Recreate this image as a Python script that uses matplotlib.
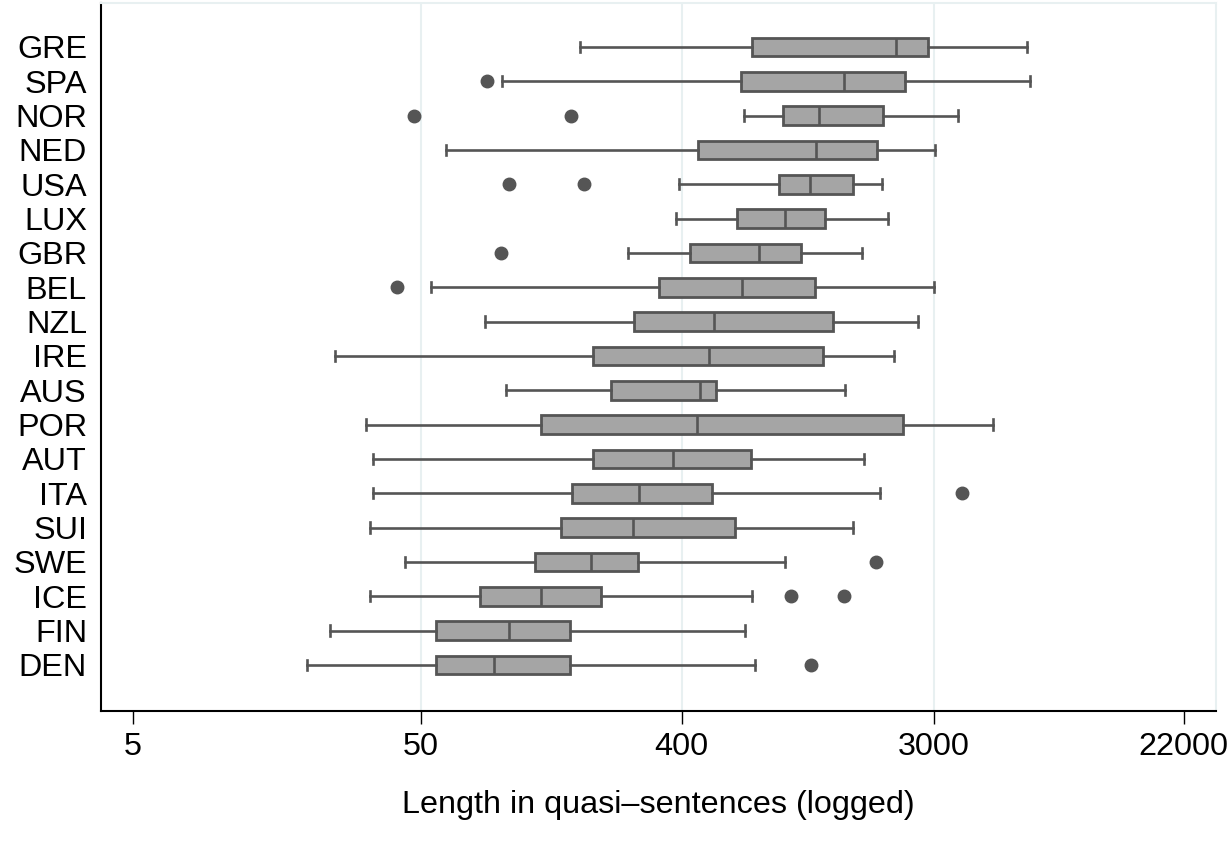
import numpy as np
import matplotlib
matplotlib.use("Agg")
import matplotlib.pyplot as plt

# countries, top to bottom
countries = ["GRE", "SPA", "NOR", "NED", "USA", "LUX", "GBR", "BEL", "NZL", "IRE",
             "AUS", "POR", "AUT", "ITA", "SUI", "SWE", "ICE", "FIN", "DEN"]

# box plot statistics (quasi-sentences)
whislo = [178, 95, 658, 61, 390, 382, 260, 54, 83.5, 25.1,
          98.5, 32.1, 34.1, 34.1, 33.1, 44.1, 33.1, 24.1, 20.1]
q1 = [701, 642, 898, 455, 867, 622, 427, 334, 273, 197,
      228, 130, 197, 167, 152, 124, 80, 56.1, 56.1]
med = [2211, 1460, 1201, 1168, 1113, 912, 741, 647, 517, 497,
       463, 452, 373, 284, 271, 194, 130, 101, 89.6]
q3 = [2856, 2377, 2001, 1900, 1569, 1255, 1036, 1163, 1338, 1235,
      526, 2339, 693, 511, 610, 282, 210, 164, 164]
whishi = [6291, 6444, 3628, 3019, 1978, 2075, 1686, 2995, 2636, 2177,
          1472, 4797, 1713, 1947, 1575, 912, 701, 661, 718]
outliers = [[], [84.3], [47.3, 165], [], [101, 184], [], [94.8], [41.2], [], [],
            [], [], [], [3745], [], [1885], [957, 1455], [], [1119]]

tick_vals = [5, 50, 400, 3000, 22000]

box_fill = "#a5a5a5"
dark = "#555555"
grid_col = "#e8f0f1"
fam = ["Liberation Sans", "DejaVu Sans"]
fs = 23.3

stats = []
for i, c in enumerate(countries):
    stats.append(dict(label=c, whislo=whislo[i], q1=q1[i], med=med[i],
                      q3=q3[i], whishi=whishi[i], fliers=outliers[i]))

fig = plt.figure(figsize=(12.28, 8.68), dpi=100)
ax = fig.add_axes([0.0822, 0.1809, 0.9080, 0.8156])

n = len(countries)
pos = np.arange(n, 0, -1)

line = dict(color=dark, linewidth=1.9)
ax.bxp(stats, positions=pos, orientation="horizontal", widths=0.54,
       patch_artist=True, capwidths=0.3,
       boxprops=dict(facecolor=box_fill, edgecolor=dark, linewidth=2.0),
       medianprops=line, whiskerprops=line, capprops=line,
       flierprops=dict(marker="o", markersize=9, markerfacecolor=dark,
                       markeredgecolor=dark))

ax.set_xscale("log")
ax.set_xlim(3.88, 28440)
ax.set_ylim(-0.34, n + 1.28)

ax.set_xticks(tick_vals)
ax.set_xticklabels([str(v) for v in tick_vals])
ax.xaxis.set_minor_locator(matplotlib.ticker.NullLocator())
ax.set_yticks(pos)
ax.set_yticklabels(countries)

for v in tick_vals[1:4]:
    ax.axvline(v, color=grid_col, linewidth=1.5, zorder=0)

ax.tick_params(axis="y", length=0, pad=10, labelsize=fs)
ax.tick_params(axis="x", length=9, width=1, pad=6, labelsize=fs)

ax.set_xlabel("Length in quasi\u2013sentences (logged)", fontsize=fs, labelpad=20)

for s in ["left", "bottom"]:
    ax.spines[s].set_linewidth(1.5)
    ax.spines[s].set_color("black")
for s in ["top", "right"]:
    ax.spines[s].set_color(grid_col)
    ax.spines[s].set_linewidth(1.5)

for t in ax.get_xticklabels() + ax.get_yticklabels():
    t.set_family(fam)
ax.xaxis.label.set_family(fam)

fig.savefig("out.png", dpi=100)
